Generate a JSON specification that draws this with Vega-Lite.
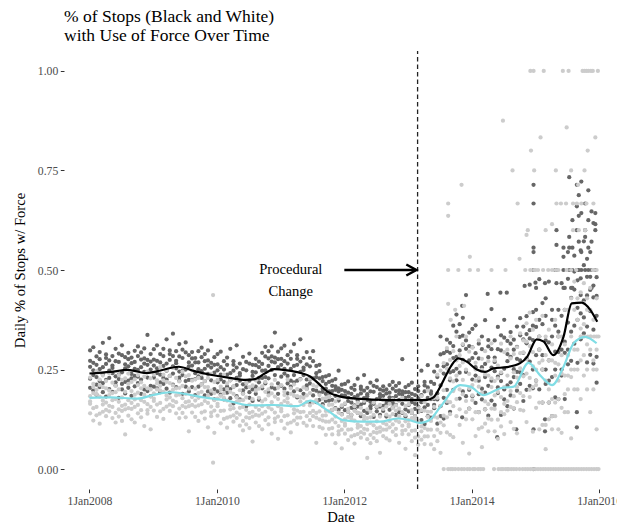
{
"$schema":"https://vega.github.io/schema/vega-lite/v6.json",
"width":553,"height":438,
"autosize":{"type":"none"},
"padding":{"left":64,"top":51,"right":0,"bottom":36},
"background":"white",
"title":{"text":["% of Stops (Black and White)","with Use of Force Over Time"],"anchor":"start","frame":"group","fontSize":17.5,"fontWeight":"normal","font":"'Liberation Serif', 'DejaVu Serif', serif","color":"#000000","lineHeight":19,"offset":6},
"datasets":{
"bp":[
{"x":2008.01,"y":[0.204,0.257,0.298,0.227,0.272]},
{"x":2008.06,"y":[0.267,0.198,0.248,0.306,0.236]},
{"x":2008.11,"y":[0.212,0.283,0.231,0.262,0.187]},
{"x":2008.16,"y":[0.294,0.221,0.276,0.206,0.251]},
{"x":2008.21,"y":[0.238,0.317,0.216,0.256,0.193]},
{"x":2008.26,"y":[0.279,0.182,0.264,0.224,0.288]},
{"x":2008.31,"y":[0.247,0.273,0.201,0.329,0.229]},
{"x":2008.36,"y":[0.194,0.26,0.284,0.241,0.254]},
{"x":2008.41,"y":[0.271,0.21,0.302,0.233,0.218]},
{"x":2008.46,"y":[0.226,0.29,0.237,0.269,0.179]},
{"x":2008.51,"y":[0.286,0.243,0.214,0.311,0.2]},
{"x":2008.56,"y":[0.219,0.253,0.281,0.19,0.263]},
{"x":2008.61,"y":[0.258,0.204,0.292,0.222,0.276]},
{"x":2008.66,"y":[0.184,0.266,0.239,0.28,0.228]},
{"x":2008.71,"y":[0.252,0.297,0.208,0.234,0.269]},
{"x":2008.76,"y":[0.232,0.216,0.308,0.249,0.284]},
{"x":2008.81,"y":[0.275,0.189,0.256,0.293,0.225]},
{"x":2008.86,"y":[0.2,0.278,0.244,0.265,0.303]},
{"x":2008.91,"y":[0.262,0.23,0.196,0.274,0.337]},
{"x":2008.96,"y":[0.209,0.25,0.27,0.183,0.289]},
{"x":2009.01,"y":[0.207,0.26,0.301,0.23,0.275]},
{"x":2009.06,"y":[0.272,0.203,0.253,0.311,0.241]},
{"x":2009.11,"y":[0.218,0.289,0.237,0.268,0.193]},
{"x":2009.16,"y":[0.302,0.229,0.284,0.214,0.259]},
{"x":2009.21,"y":[0.247,0.326,0.225,0.265,0.202]},
{"x":2009.26,"y":[0.289,0.192,0.274,0.234,0.298]},
{"x":2009.31,"y":[0.258,0.284,0.212,0.34,0.24]},
{"x":2009.36,"y":[0.206,0.272,0.296,0.253,0.266]},
{"x":2009.41,"y":[0.283,0.222,0.314,0.245,0.23]},
{"x":2009.46,"y":[0.236,0.3,0.247,0.279,0.189]},
{"x":2009.51,"y":[0.293,0.25,0.221,0.318,0.207]},
{"x":2009.56,"y":[0.224,0.258,0.286,0.195,0.268]},
{"x":2009.61,"y":[0.26,0.206,0.294,0.224,0.278]},
{"x":2009.66,"y":[0.186,0.268,0.241,0.279,0.226]},
{"x":2009.71,"y":[0.251,0.296,0.207,0.233,0.268]},
{"x":2009.76,"y":[0.229,0.213,0.305,0.246,0.281]},
{"x":2009.81,"y":[0.271,0.185,0.252,0.289,0.221]},
{"x":2009.86,"y":[0.195,0.273,0.239,0.26,0.298]},
{"x":2009.91,"y":[0.255,0.223,0.189,0.267,0.322]},
{"x":2009.96,"y":[0.201,0.242,0.262,0.175,0.281]},
{"x":2010.01,"y":[0.195,0.248,0.289,0.218,0.263]},
{"x":2010.06,"y":[0.256,0.187,0.237,0.295,0.225]},
{"x":2010.11,"y":[0.2,0.271,0.219,0.25,0.175]},
{"x":2010.16,"y":[0.28,0.207,0.262,0.192,0.237]},
{"x":2010.21,"y":[0.223,0.302,0.201,0.241,0.178]},
{"x":2010.26,"y":[0.262,0.165,0.247,0.207,0.271]},
{"x":2010.31,"y":[0.229,0.255,0.183,0.311,0.211]},
{"x":2010.36,"y":[0.175,0.241,0.265,0.222,0.235]},
{"x":2010.41,"y":[0.251,0.19,0.282,0.213,0.198]},
{"x":2010.46,"y":[0.205,0.269,0.216,0.248,0.158]},
{"x":2010.51,"y":[0.265,0.222,0.193,0.29,0.179]},
{"x":2010.56,"y":[0.2,0.234,0.262,0.171,0.244]},
{"x":2010.61,"y":[0.243,0.189,0.277,0.207,0.261]},
{"x":2010.66,"y":[0.174,0.256,0.229,0.27,0.218]},
{"x":2010.71,"y":[0.247,0.292,0.203,0.229,0.264]},
{"x":2010.76,"y":[0.231,0.215,0.307,0.248,0.283]},
{"x":2010.81,"y":[0.278,0.192,0.259,0.296,0.228]},
{"x":2010.86,"y":[0.205,0.283,0.249,0.27,0.308]},
{"x":2010.91,"y":[0.268,0.236,0.202,0.28,0.343]},
{"x":2010.96,"y":[0.215,0.256,0.276,0.189,0.295]},
{"x":2011.01,"y":[0.209,0.262,0.303,0.232,0.277]},
{"x":2011.06,"y":[0.271,0.202,0.252,0.31,0.24]},
{"x":2011.11,"y":[0.215,0.286,0.234,0.265,0.19]},
{"x":2011.16,"y":[0.295,0.222,0.277,0.207,0.252]},
{"x":2011.21,"y":[0.236,0.314,0.218,0.259,0.195]},
{"x":2011.26,"y":[0.277,0.18,0.262,0.222,0.286]},
{"x":2011.31,"y":[0.244,0.27,0.198,0.326,0.226]},
{"x":2011.36,"y":[0.189,0.255,0.279,0.236,0.249]},
{"x":2011.41,"y":[0.263,0.202,0.294,0.225,0.21]},
{"x":2011.46,"y":[0.215,0.279,0.226,0.258,0.168]},
{"x":2011.51,"y":[0.271,0.228,0.199,0.296,0.185]},
{"x":2011.56,"y":[0.197,0.231,0.259,0.168,0.241]},
{"x":2011.61,"y":[0.228,0.174,0.262,0.192,0.246]},
{"x":2011.66,"y":[0.163,0.221,0.202,0.231,0.194]},
{"x":2011.71,"y":[0.202,0.233,0.171,0.189,0.214]},
{"x":2011.76,"y":[0.183,0.172,0.236,0.195,0.219]},
{"x":2011.81,"y":[0.209,0.149,0.196,0.222,0.174]},
{"x":2011.86,"y":[0.153,0.208,0.184,0.199,0.226]},
{"x":2011.91,"y":[0.195,0.172,0.149,0.203,0.247]},
{"x":2011.96,"y":[0.156,0.185,0.199,0.138,0.212]},
{"x":2012.01,"y":[0.148,0.185,0.214,0.164,0.196]},
{"x":2012.06,"y":[0.192,0.144,0.179,0.22,0.171]},
{"x":2012.11,"y":[0.154,0.204,0.167,0.189,0.136]},
{"x":2012.16,"y":[0.211,0.16,0.199,0.15,0.181]},
{"x":2012.21,"y":[0.172,0.227,0.157,0.185,0.141]},
{"x":2012.26,"y":[0.201,0.133,0.19,0.162,0.207]},
{"x":2012.31,"y":[0.178,0.197,0.146,0.236,0.166]},
{"x":2012.36,"y":[0.141,0.188,0.204,0.174,0.183]},
{"x":2012.41,"y":[0.195,0.152,0.217,0.169,0.158]},
{"x":2012.46,"y":[0.164,0.209,0.171,0.194,0.131]},
{"x":2012.51,"y":[0.206,0.176,0.155,0.223,0.145]},
{"x":2012.56,"y":[0.157,0.181,0.2,0.136,0.188]},
{"x":2012.61,"y":[0.184,0.146,0.208,0.159,0.197]},
{"x":2012.66,"y":[0.132,0.19,0.171,0.2,0.163]},
{"x":2012.71,"y":[0.18,0.211,0.149,0.167,0.192]},
{"x":2012.76,"y":[0.166,0.155,0.219,0.178,0.202]},
{"x":2012.81,"y":[0.196,0.136,0.183,0.209,0.161]},
{"x":2012.86,"y":[0.143,0.198,0.174,0.189,0.216]},
{"x":2012.91,"y":[0.187,0.164,0.141,0.195,0.276]},
{"x":2012.96,"y":[0.15,0.179,0.193,0.132,0.206]},
{"x":2013.01,"y":[0.145,0.182,0.211,0.161,0.193]},
{"x":2013.06,"y":[0.189,0.141,0.176,0.217,0.168]},
{"x":2013.11,"y":[0.151,0.201,0.164,0.186,0.133]},
{"x":2013.16,"y":[0.208,0.157,0.196,0.147,0.178]},
{"x":2013.21,"y":[0.168,0.247,0.146,0.186,0.123]},
{"x":2013.26,"y":[0.21,0.113,0.195,0.155,0.219]},
{"x":2013.31,"y":[0.179,0.205,0.133,0.261,0.161]},
{"x":2013.36,"y":[0.129,0.195,0.219,0.176,0.189]},
{"x":2013.41,"y":[0.214,0.153,0.245,0.176,0.161]},
{"x":2013.46,"y":[0.175,0.259,0.19,0.231,0.114]},
{"x":2013.51,"y":[0.288,0.21,0.158,0.333,0.133]},
{"x":2013.56,"y":[0.179,0.24,0.291,0.127,0.258]},
{"x":2013.61,"y":[0.263,0.166,0.325,0.199,0.296]},
{"x":2013.66,"y":[0.144,0.292,0.243,0.317,0.223]},
{"x":2013.71,"y":[0.279,0.36,0.199,0.246,0.309]},
{"x":2013.76,"y":[0.252,0.223,0.388,0.282,0.345]},
{"x":2013.81,"y":[0.332,0.177,0.298,0.364,0.242]},
{"x":2013.86,"y":[0.195,0.335,0.274,0.312,0.38]},
{"x":2013.91,"y":[0.302,0.244,0.183,0.323,0.437]},
{"x":2013.96,"y":[0.199,0.273,0.309,0.152,0.343]},
{"x":2014.01,"y":[0.183,0.279,0.352,0.225,0.306]},
{"x":2014.06,"y":[0.291,0.166,0.256,0.361,0.235]},
{"x":2014.11,"y":[0.188,0.315,0.222,0.278,0.143]},
{"x":2014.16,"y":[0.333,0.202,0.301,0.175,0.256]},
{"x":2014.21,"y":[0.231,0.374,0.192,0.264,0.15]},
{"x":2014.26,"y":[0.308,0.134,0.281,0.209,0.324]},
{"x":2014.31,"y":[0.255,0.301,0.172,0.402,0.222]},
{"x":2014.36,"y":[0.161,0.28,0.323,0.246,0.269]},
{"x":2014.41,"y":[0.301,0.191,0.357,0.232,0.205]},
{"x":2014.46,"y":[0.221,0.336,0.241,0.298,0.136]},
{"x":2014.51,"y":[0.33,0.252,0.2,0.375,0.175]},
{"x":2014.56,"y":[0.21,0.271,0.322,0.158,0.289]},
{"x":2014.61,"y":[0.282,0.185,0.344,0.218,0.315]},
{"x":2014.66,"y":[0.152,0.3,0.251,0.325,0.231]},
{"x":2014.71,"y":[0.277,0.358,0.197,0.244,0.307]},
{"x":2014.76,"y":[0.243,0.214,0.379,0.273,0.336]},
{"x":2014.81,"y":[0.326,0.171,0.292,0.358,0.236]},
{"x":2014.86,"y":[0.199,0.339,0.278,0.316,0.384]},
{"x":2014.91,"y":[0.328,0.27,0.209,0.349,0.463]},
{"x":2014.96,"y":[0.25,0.324,0.36,0.203,0.394]},
{"x":2015.01,"y":[0.222,0.357,0.455,0.286,0.4]},
{"x":2015.06,"y":[0.375,0.2,0.333,0.477,0.3]},
{"x":2015.11,"y":[0.25,0.417,0.286,0.364,0.167]},
{"x":2015.16,"y":[0.429,0.25,0.385,0.214,0.323]},
{"x":2015.21,"y":[0.273,0.471,0.222,0.318,0.167]},
{"x":2015.26,"y":[0.375,0.133,0.333,0.231,0.4]},
{"x":2015.31,"y":[0.295,0.36,0.18,0.5,0.25]},
{"x":2015.36,"y":[0.176,0.345,0.4,0.294,0.333]},
{"x":2015.41,"y":[0.385,0.235,0.467,0.3,0.25]},
{"x":2015.46,"y":[0.292,0.455,0.32,0.4,0.176]},
{"x":2015.51,"y":[0.478,0.368,0.3,0.545,0.263]},
{"x":2015.56,"y":[0.345,0.43,0.5,0.272,0.455]},
{"x":2015.61,"y":[0.451,0.315,0.536,0.36,0.496]},
{"x":2015.66,"y":[0.267,0.474,0.405,0.5,0.375]},
{"x":2015.71,"y":[0.437,0.549,0.326,0.391,0.479]},
{"x":2015.76,"y":[0.381,0.341,0.572,0.424,0.512]},
{"x":2015.81,"y":[0.483,0.268,0.436,0.528,0.358]},
{"x":2015.86,"y":[0.287,0.483,0.397,0.45,0.545]},
{"x":2015.91,"y":[0.431,0.35,0.265,0.461,0.618]},
{"x":2015.96,"y":[0.282,0.385,0.435,0.217,0.482]},
{"x":2013.85,"y":[0.13,0.41]},
{"x":2014.25,"y":[0.44]},
{"x":2014.4,"y":[0.08]},
{"x":2014.45,"y":[0.443]},
{"x":2014.55,"y":[0.443]},
{"x":2014.7,"y":[0.1]},
{"x":2014.83,"y":[0.46]},
{"x":2014.97,"y":[0.714,0.667,0.556,0.545,0.5,0.0,0.1]},
{"x":2015.0,"y":[0.468]},
{"x":2015.15,"y":[0.095,0.125,0.467]},
{"x":2015.33,"y":[0.563,0.5,0.467,0.6]},
{"x":2015.44,"y":[0.5,0.556,0.455,0.533]},
{"x":2015.53,"y":[0.733,0.583,0.556,0.5]},
{"x":2015.58,"y":[0.556,0.5,0.625,0.455]},
{"x":2015.65,"y":[0.66,0.5,0.714,0.6,0.105,0.143]},
{"x":2015.68,"y":[0.636,0.688,0.5,0.571]},
{"x":2015.72,"y":[0.722,0.643,0.5,0.545]},
{"x":2015.78,"y":[0.5,0.667,0.6,0.583]},
{"x":2015.83,"y":[0.625,0.5,0.556,0.7]},
{"x":2015.88,"y":[0.647,0.5,0.571,0.455]},
{"x":2015.94,"y":[0.643,0.5,0.615,0.6]}
],
"wp":[
{"x":2008.01,"y":[0.17,0.183,0.14,0.164,0.23]},
{"x":2008.06,"y":[0.206,0.191,0.122,0.214,0.153]},
{"x":2008.11,"y":[0.246,0.156,0.188,0.135,0.199]},
{"x":2008.16,"y":[0.225,0.114,0.211,0.182,0.139]},
{"x":2008.21,"y":[0.162,0.235,0.144,0.172,0.206]},
{"x":2008.26,"y":[0.149,0.203,0.133,0.221,0.167]},
{"x":2008.31,"y":[0.197,0.145,0.186,0.159,0.241]},
{"x":2008.36,"y":[0.156,0.191,0.217,0.128,0.173]},
{"x":2008.41,"y":[0.141,0.176,0.117,0.209,0.193]},
{"x":2008.46,"y":[0.2,0.132,0.169,0.236,0.15]},
{"x":2008.51,"y":[0.121,0.159,0.18,0.146,0.224]},
{"x":2008.56,"y":[0.087,0.15,0.228,0.194,0.162]},
{"x":2008.61,"y":[0.134,0.24,0.153,0.173,0.214]},
{"x":2008.66,"y":[0.151,0.196,0.125,0.166,0.219]},
{"x":2008.71,"y":[0.187,0.117,0.175,0.225,0.156]},
{"x":2008.76,"y":[0.236,0.161,0.192,0.14,0.211]},
{"x":2008.81,"y":[0.173,0.218,0.148,0.203,0.13]},
{"x":2008.86,"y":[0.232,0.169,0.209,0.108,0.187]},
{"x":2008.91,"y":[0.139,0.203,0.163,0.245,0.148]},
{"x":2008.96,"y":[0.2,0.1,0.228,0.156,0.182]},
{"x":2009.01,"y":[0.177,0.19,0.147,0.171,0.237]},
{"x":2009.06,"y":[0.215,0.2,0.131,0.223,0.162]},
{"x":2009.11,"y":[0.256,0.166,0.198,0.145,0.209]},
{"x":2009.16,"y":[0.237,0.126,0.223,0.194,0.151]},
{"x":2009.21,"y":[0.175,0.248,0.157,0.185,0.219]},
{"x":2009.26,"y":[0.162,0.216,0.146,0.234,0.18]},
{"x":2009.31,"y":[0.21,0.158,0.199,0.172,0.254]},
{"x":2009.36,"y":[0.168,0.203,0.229,0.14,0.185]},
{"x":2009.41,"y":[0.152,0.187,0.128,0.22,0.204]},
{"x":2009.46,"y":[0.209,0.141,0.178,0.245,0.159]},
{"x":2009.51,"y":[0.13,0.168,0.189,0.155,0.233]},
{"x":2009.56,"y":[0.095,0.158,0.236,0.202,0.17]},
{"x":2009.61,"y":[0.142,0.248,0.161,0.181,0.222]},
{"x":2009.66,"y":[0.157,0.202,0.131,0.172,0.225]},
{"x":2009.71,"y":[0.191,0.121,0.179,0.229,0.16]},
{"x":2009.76,"y":[0.238,0.163,0.194,0.142,0.213]},
{"x":2009.81,"y":[0.171,0.221,0.145,0.206,0.127]},
{"x":2009.86,"y":[0.229,0.166,0.206,0.105,0.184]},
{"x":2009.91,"y":[0.133,0.197,0.157,0.239,0.142]},
{"x":2009.94,"y":[0.437,0.016]},
{"x":2009.96,"y":[0.191,0.091,0.219,0.147,0.173]},
{"x":2010.01,"y":[0.164,0.177,0.134,0.158,0.224]},
{"x":2010.06,"y":[0.199,0.184,0.115,0.207,0.146]},
{"x":2010.11,"y":[0.237,0.147,0.179,0.126,0.19]},
{"x":2010.16,"y":[0.215,0.104,0.201,0.172,0.129]},
{"x":2010.21,"y":[0.15,0.223,0.132,0.16,0.194]},
{"x":2010.26,"y":[0.135,0.189,0.119,0.207,0.153]},
{"x":2010.31,"y":[0.18,0.128,0.169,0.142,0.224]},
{"x":2010.36,"y":[0.137,0.172,0.198,0.109,0.154]},
{"x":2010.41,"y":[0.121,0.156,0.097,0.189,0.173]},
{"x":2010.46,"y":[0.18,0.112,0.149,0.216,0.13]},
{"x":2010.51,"y":[0.103,0.141,0.162,0.128,0.206]},
{"x":2010.56,"y":[0.069,0.132,0.21,0.176,0.144]},
{"x":2010.61,"y":[0.117,0.223,0.136,0.156,0.197]},
{"x":2010.66,"y":[0.134,0.179,0.108,0.149,0.202]},
{"x":2010.71,"y":[0.17,0.1,0.158,0.208,0.139]},
{"x":2010.76,"y":[0.219,0.144,0.175,0.123,0.194]},
{"x":2010.81,"y":[0.155,0.2,0.13,0.185,0.112]},
{"x":2010.86,"y":[0.213,0.15,0.19,0.089,0.168]},
{"x":2010.91,"y":[0.118,0.182,0.142,0.224,0.127]},
{"x":2010.96,"y":[0.176,0.076,0.204,0.132,0.158]},
{"x":2011.01,"y":[0.151,0.164,0.121,0.145,0.211]},
{"x":2011.06,"y":[0.186,0.171,0.102,0.194,0.133]},
{"x":2011.11,"y":[0.225,0.135,0.167,0.114,0.178]},
{"x":2011.16,"y":[0.203,0.092,0.189,0.16,0.117]},
{"x":2011.21,"y":[0.14,0.213,0.122,0.15,0.184]},
{"x":2011.26,"y":[0.129,0.183,0.113,0.201,0.147]},
{"x":2011.31,"y":[0.181,0.129,0.17,0.143,0.225]},
{"x":2011.36,"y":[0.144,0.179,0.205,0.116,0.161]},
{"x":2011.41,"y":[0.133,0.168,0.109,0.201,0.185]},
{"x":2011.46,"y":[0.191,0.123,0.16,0.227,0.141]},
{"x":2011.51,"y":[0.108,0.146,0.167,0.133,0.211]},
{"x":2011.56,"y":[0.066,0.129,0.207,0.173,0.141]},
{"x":2011.61,"y":[0.106,0.212,0.125,0.145,0.186]},
{"x":2011.66,"y":[0.122,0.158,0.102,0.134,0.177]},
{"x":2011.71,"y":[0.146,0.086,0.135,0.178,0.119]},
{"x":2011.76,"y":[0.182,0.119,0.145,0.101,0.161]},
{"x":2011.81,"y":[0.124,0.162,0.103,0.149,0.087]},
{"x":2011.86,"y":[0.17,0.117,0.151,0.065,0.132]},
{"x":2011.91,"y":[0.087,0.142,0.108,0.178,0.095]},
{"x":2011.96,"y":[0.137,0.052,0.16,0.099,0.121]},
{"x":2012.01,"y":[0.114,0.125,0.089,0.109,0.165]},
{"x":2012.06,"y":[0.144,0.131,0.073,0.151,0.099]},
{"x":2012.11,"y":[0.176,0.1,0.127,0.082,0.136]},
{"x":2012.16,"y":[0.158,0.064,0.146,0.122,0.085]},
{"x":2012.21,"y":[0.104,0.166,0.088,0.112,0.141]},
{"x":2012.26,"y":[0.093,0.139,0.079,0.154,0.108]},
{"x":2012.31,"y":[0.133,0.089,0.124,0.101,0.171]},
{"x":2012.36,"y":[0.099,0.128,0.15,0.075,0.113,0.028]},
{"x":2012.41,"y":[0.086,0.116,0.065,0.144,0.13]},
{"x":2012.46,"y":[0.136,0.078,0.11,0.167,0.093]},
{"x":2012.51,"y":[0.07,0.102,0.12,0.091,0.157]},
{"x":2012.56,"y":[0.041,0.094,0.161,0.132,0.105]},
{"x":2012.61,"y":[0.083,0.173,0.099,0.116,0.151]},
{"x":2012.66,"y":[0.099,0.137,0.077,0.112,0.157]},
{"x":2012.71,"y":[0.132,0.072,0.121,0.164,0.105]},
{"x":2012.76,"y":[0.175,0.112,0.138,0.094,0.154]},
{"x":2012.81,"y":[0.122,0.16,0.101,0.147,0.085]},
{"x":2012.86,"y":[0.171,0.118,0.152,0.066,0.133]},
{"x":2012.91,"y":[0.088,0.143,0.109,0.179,0.096]},
{"x":2012.96,"y":[0.136,0.051,0.159,0.098,0.12]},
{"x":2013.01,"y":[0.112,0.123,0.087,0.107,0.163]},
{"x":2013.06,"y":[0.141,0.128,0.07,0.148,0.096]},
{"x":2013.11,"y":[0.173,0.097,0.124,0.079,0.133,0.035]},
{"x":2013.16,"y":[0.155,0.061,0.143,0.119,0.082]},
{"x":2013.21,"y":[0.095,0.183,0.074,0.107,0.148]},
{"x":2013.26,"y":[0.082,0.147,0.063,0.168,0.103]},
{"x":2013.31,"y":[0.144,0.082,0.131,0.099,0.197]},
{"x":2013.36,"y":[0.099,0.144,0.178,0.062,0.121]},
{"x":2013.41,"y":[0.083,0.132,0.05,0.179,0.156]},
{"x":2013.46,"y":[0.179,0.07,0.129,0.237,0.099]},
{"x":2013.51,"y":[0.041,0.117,0.159,0.091,0.247]},
{"x":2013.56,"y":[0,0.11,0.266,0.198,0.134]},
{"x":2013.61,"y":[0.092,0.304,0.13,0.17,0.252]},
{"x":2013.66,"y":[0.138,0.228,0.086,0.168,0.274]},
{"x":2013.71,"y":[0.22,0.08,0.196,0.296,0.158]},
{"x":2013.76,"y":[0.333,0.176,0.235,0.133,0.273]},
{"x":2013.81,"y":[0.2,0.286,0.15,0.259,0.111]},
{"x":2013.86,"y":[0.314,0.188,0.268,0.066,0.224]},
{"x":2013.91,"y":[0.125,0.25,0.171,0.333,0.143]},
{"x":2013.96,"y":[0.239,0.039,0.295,0.151,0.203]},
{"x":2014.01,"y":[0.185,0.211,0.125,0.173,0.305]},
{"x":2014.06,"y":[0.25,0.222,0.083,0.267,0.143]},
{"x":2014.11,"y":[0.323,0.143,0.207,0.101,0.229]},
{"x":2014.16,"y":[0.277,0.055,0.249,0.191,0.105]},
{"x":2014.21,"y":[0.15,0.296,0.114,0.17,0.238]},
{"x":2014.26,"y":[0.127,0.235,0.095,0.271,0.163]},
{"x":2014.31,"y":[0.228,0.124,0.206,0.152,0.316]},
{"x":2014.36,"y":[0.151,0.221,0.273,0.095,0.185]},
{"x":2014.41,"y":[0.124,0.194,0.076,0.26,0.228]},
{"x":2014.46,"y":[0.243,0.107,0.181,0.315,0.143]},
{"x":2014.51,"y":[0.088,0.164,0.206,0.138,0.294]},
{"x":2014.56,"y":[0,0.147,0.3,0.235,0.171]},
{"x":2014.61,"y":[0.118,0.333,0.156,0.196,0.278]},
{"x":2014.66,"y":[0.153,0.243,0.101,0.183,0.289]},
{"x":2014.71,"y":[0.23,0.09,0.206,0.306,0.168]},
{"x":2014.76,"y":[0.341,0.191,0.253,0.149,0.291]},
{"x":2014.81,"y":[0.233,0.323,0.183,0.293,0.147]},
{"x":2014.86,"y":[0.366,0.24,0.32,0.118,0.276]},
{"x":2014.91,"y":[0.181,0.309,0.229,0.393,0.199]},
{"x":2014.96,"y":[0.294,0.094,0.35,0.206,0.258]},
{"x":2015.01,"y":[0.222,0.25,0.154,0.211,0.375]},
{"x":2015.06,"y":[0.3,0.267,0.1,0.333,0.167]},
{"x":2015.11,"y":[0.385,0.167,0.25,0.111,0.273]},
{"x":2015.16,"y":[0.333,0.05,0.286,0.222,0.111]},
{"x":2015.21,"y":[0.167,0.35,0.125,0.2,0.273]},
{"x":2015.26,"y":[0.133,0.273,0.1,0.313,0.176]},
{"x":2015.31,"y":[0.267,0.133,0.235,0.167,0.375]},
{"x":2015.36,"y":[0.176,0.263,0.333,0.1,0.222]},
{"x":2015.41,"y":[0.154,0.24,0.091,0.333,0.286]},
{"x":2015.46,"y":[0.313,0.143,0.235,0.4,0.188]},
{"x":2015.51,"y":[0.143,0.235,0.286,0.2,0.4]},
{"x":2015.56,"y":[0.077,0.231,0.429,0.333,0.25]},
{"x":2015.61,"y":[0.2,0.471,0.25,0.3,0.4]},
{"x":2015.66,"y":[0.25,0.375,0.2,0.3,0.429]},
{"x":2015.71,"y":[0.353,0.176,0.333,0.444,0.273]},
{"x":2015.76,"y":[0.467,0.286,0.364,0.235,0.417]},
{"x":2015.81,"y":[0.313,0.429,0.25,0.4,0.2]},
{"x":2015.86,"y":[0.455,0.3,0.4,0.143,0.333]},
{"x":2015.91,"y":[0.2,0.375,0.273,0.5,0.25]},
{"x":2015.96,"y":[0.333,0.1,0.429,0.25,0.3]},
{"x":2013.63,"y":[0.5,0,0.667,0.636,0.415]},
{"x":2013.67,"y":[0,0.375]},
{"x":2013.7,"y":[0]},
{"x":2013.74,"y":[0,0.4]},
{"x":2013.79,"y":[0.5,0]},
{"x":2013.84,"y":[0.714,0]},
{"x":2013.88,"y":[0,0.41]},
{"x":2013.93,"y":[0]},
{"x":2013.97,"y":[0.5,0.533,0]},
{"x":2014.02,"y":[0]},
{"x":2014.05,"y":[0]},
{"x":2014.1,"y":[0.5,0]},
{"x":2014.14,"y":[0]},
{"x":2014.18,"y":[0]},
{"x":2014.31,"y":[0.5]},
{"x":2014.35,"y":[0]},
{"x":2014.42,"y":[0]},
{"x":2014.46,"y":[0]},
{"x":2014.49,"y":[0.875,0]},
{"x":2014.53,"y":[0.5,0]},
{"x":2014.58,"y":[0]},
{"x":2014.62,"y":[0]},
{"x":2014.64,"y":[0.75]},
{"x":2014.66,"y":[0]},
{"x":2014.7,"y":[0]},
{"x":2014.72,"y":[0.667]},
{"x":2014.75,"y":[0.528,0]},
{"x":2014.8,"y":[0]},
{"x":2014.84,"y":[0.5,0]},
{"x":2014.86,"y":[0.588]},
{"x":2014.88,"y":[0.6,0]},
{"x":2014.92,"y":[1,0.5,0]},
{"x":2014.93,"y":[0.8]},
{"x":2014.96,"y":[0]},
{"x":2014.97,"y":[1]},
{"x":2014.98,"y":[0.75,0.5]},
{"x":2015.0,"y":[0,0.5]},
{"x":2015.04,"y":[0,0.5]},
{"x":2015.08,"y":[0.833,0]},
{"x":2015.12,"y":[0,0.5]},
{"x":2015.13,"y":[1]},
{"x":2015.16,"y":[0.6,0]},
{"x":2015.2,"y":[0,0.5]},
{"x":2015.24,"y":[0]},
{"x":2015.26,"y":[0.615,0.5]},
{"x":2015.28,"y":[0]},
{"x":2015.32,"y":[0.75,0,0.5]},
{"x":2015.33,"y":[0.667]},
{"x":2015.36,"y":[0,0.5]},
{"x":2015.4,"y":[0.667,0]},
{"x":2015.43,"y":[1]},
{"x":2015.44,"y":[0]},
{"x":2015.48,"y":[0.667,0]},
{"x":2015.49,"y":[0.858,0.5]},
{"x":2015.52,"y":[1,0]},
{"x":2015.56,"y":[0.75,0,0.5]},
{"x":2015.59,"y":[0.667,0.6]},
{"x":2015.6,"y":[0]},
{"x":2015.64,"y":[0,0.5]},
{"x":2015.65,"y":[0.667]},
{"x":2015.67,"y":[0.714]},
{"x":2015.68,"y":[0.6,0]},
{"x":2015.72,"y":[0.667,0,0.333]},
{"x":2015.74,"y":[1]},
{"x":2015.76,"y":[0,0.333]},
{"x":2015.77,"y":[1,0.75]},
{"x":2015.78,"y":[0.6]},
{"x":2015.8,"y":[1,0,0.667]},
{"x":2015.82,"y":[0.8,0.333]},
{"x":2015.83,"y":[1]},
{"x":2015.84,"y":[0]},
{"x":2015.87,"y":[1,0.333]},
{"x":2015.88,"y":[0]},
{"x":2015.9,"y":[1,0.5]},
{"x":2015.91,"y":[0.667]},
{"x":2015.92,"y":[0,0.333]},
{"x":2015.94,"y":[0.833]},
{"x":2015.96,"y":[0,0.5]},
{"x":2015.98,"y":[1]},
{"x":2015.99,"y":[0,0.333]}
],
"bl":[
{"x":2008.0,"y":0.24},{"x":2008.33,"y":0.244},{"x":2008.6,"y":0.249},{"x":2008.9,"y":0.241},{"x":2009.1,"y":0.247},{"x":2009.4,"y":0.257},{"x":2009.65,"y":0.246},{"x":2009.9,"y":0.237},{"x":2010.2,"y":0.229},{"x":2010.45,"y":0.224},{"x":2010.6,"y":0.226},{"x":2010.75,"y":0.24},{"x":2010.9,"y":0.251},{"x":2011.1,"y":0.248},{"x":2011.3,"y":0.242},{"x":2011.47,"y":0.232},{"x":2011.6,"y":0.214},{"x":2011.73,"y":0.195},{"x":2011.94,"y":0.182},{"x":2012.2,"y":0.177},{"x":2012.56,"y":0.174},{"x":2012.9,"y":0.173},{"x":2013.14,"y":0.173},{"x":2013.3,"y":0.174},{"x":2013.4,"y":0.18},{"x":2013.5,"y":0.205},{"x":2013.56,"y":0.224},{"x":2013.68,"y":0.26},{"x":2013.79,"y":0.278},{"x":2013.92,"y":0.27},{"x":2014.08,"y":0.25},{"x":2014.21,"y":0.244},{"x":2014.34,"y":0.253},{"x":2014.55,"y":0.256},{"x":2014.76,"y":0.266},{"x":2014.87,"y":0.282},{"x":2015.02,"y":0.326},{"x":2015.13,"y":0.32},{"x":2015.28,"y":0.286},{"x":2015.44,"y":0.332},{"x":2015.57,"y":0.416},{"x":2015.73,"y":0.418},{"x":2015.86,"y":0.4},{"x":2015.97,"y":0.37}
],
"wl":[
{"x":2008.0,"y":0.179},{"x":2008.33,"y":0.18},{"x":2008.75,"y":0.177},{"x":2009.0,"y":0.186},{"x":2009.27,"y":0.193},{"x":2009.53,"y":0.188},{"x":2009.79,"y":0.18},{"x":2010.16,"y":0.172},{"x":2010.47,"y":0.161},{"x":2010.68,"y":0.16},{"x":2010.89,"y":0.161},{"x":2011.26,"y":0.158},{"x":2011.47,"y":0.172},{"x":2011.73,"y":0.148},{"x":2011.98,"y":0.123},{"x":2012.3,"y":0.119},{"x":2012.56,"y":0.119},{"x":2012.83,"y":0.127},{"x":2013.0,"y":0.124},{"x":2013.19,"y":0.116},{"x":2013.35,"y":0.125},{"x":2013.51,"y":0.157},{"x":2013.82,"y":0.211},{"x":2013.98,"y":0.207},{"x":2014.18,"y":0.186},{"x":2014.45,"y":0.203},{"x":2014.66,"y":0.207},{"x":2014.89,"y":0.267},{"x":2015.07,"y":0.236},{"x":2015.26,"y":0.211},{"x":2015.44,"y":0.257},{"x":2015.6,"y":0.316},{"x":2015.78,"y":0.332},{"x":2015.96,"y":0.316}
]
},
"encoding":{
"x":{"field":"x","type":"quantitative","title":"Date","scale":{"domain":[2007.6,2016.28],"nice":false,"zero":false},
"axis":{"values":[2008,2010,2012,2014,2016],"labelExpr":"'1Jan' + datum.value","labelFlush":false,"titlePadding":3}},
"y":{"field":"y","type":"quantitative","title":"Daily % of Stops w/ Force","scale":{"domain":[-0.05,1.05],"nice":false,"zero":false},
"axis":{"values":[0,0.25,0.5,0.75,1],"format":".2f","titlePadding":10}}
},
"layer":[
{"data":{"name":"bp"},"transform":[{"flatten":["y"]}],
"mark":{"type":"circle","size":18,"color":"#666666","opacity":1}},
{"data":{"name":"wp"},"transform":[{"flatten":["y"]}],
"mark":{"type":"circle","size":18,"color":"#cccccc","opacity":1}},
{"data":{"name":"bl"},
"mark":{"type":"line","color":"#000000","strokeWidth":2.2,"interpolate":"monotone"}},
{"data":{"name":"wl"},
"mark":{"type":"line","color":"#80dde5","strokeWidth":2.2,"interpolate":"monotone"}},
{"data":{"values":[{"x":2013.15,"y":-0.05,"y2":1.05}]},
"mark":{"type":"rule","color":"#222222","strokeWidth":1.3,"strokeDash":[4.5,3]},
"encoding":{"y2":{"field":"y2"}}},
{"data":{"values":[{"x":2011.16,"y":0.5,"t":"Procedural\nChange"}]},
"mark":{"type":"text","lineBreak":"\n","fontSize":14.6,"lineHeight":22,"align":"center","baseline":"middle","color":"#000000","font":"'Liberation Serif', 'DejaVu Serif', serif"},
"encoding":{"text":{"field":"t"}}},
{"data":{"values":[{"x":2012.0,"x2":2013.13,"y":0.5}]},
"mark":{"type":"rule","color":"#000000","strokeWidth":2.5},
"encoding":{"x2":{"field":"x2"}}},
{"data":{"values":[{"x":2013.13,"y":0.5}]},
"mark":{"type":"point","shape":"M-1,-0.55L0,0L-1,0.55","size":400,"filled":false,"stroke":"#000000","strokeWidth":2.5,"opacity":1}}
],
"config":{
"view":{"stroke":null},
"font":"'Liberation Serif', 'DejaVu Serif', serif",
"axis":{"grid":false,"domain":false,"tickColor":"#333333","tickSize":3.7,"tickWidth":1,"labelColor":"#4d4d4d","labelFont":"'Liberation Serif', 'DejaVu Serif', serif","labelFontSize":11.7,"labelPadding":2.5,"titleFont":"'Liberation Serif', 'DejaVu Serif', serif","titleFontSize":14.6,"titleFontWeight":"normal","titleColor":"#000000"}
}
}
